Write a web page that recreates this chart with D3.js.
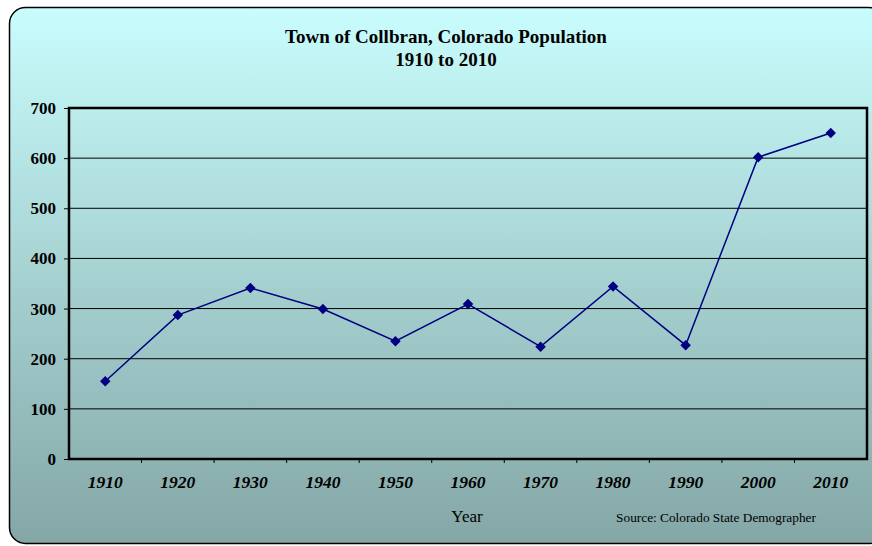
<!DOCTYPE html>
<html>
<head>
<meta charset="utf-8">
<script src="https://cdn.jsdelivr.net/npm/d3@7"></script>
<style>
  body { margin: 0; background: #fff; }
  svg { display: block; }
  text { font-family: "Liberation Serif", "Times New Roman", serif; fill: #000; }
</style>
</head>
<body>
<div id="wrapper"></div>
<script>
const years = ["1910", "1920", "1930", "1940", "1950", "1960", "1970", "1980", "1990", "2000", "2010"];
const population = [155, 287, 341, 299, 235, 309, 224, 344, 227, 602, 650];
const yTicks = [0, 100, 200, 300, 400, 500, 600, 700];

function drawChart() {
  const dimensions = {
    width: 872,
    height: 546,
    margin: { top: 108, right: 5, bottom: 87, left: 69 },
  };
  dimensions.boundedWidth = dimensions.width - dimensions.margin.left - dimensions.margin.right;
  dimensions.boundedHeight = dimensions.height - dimensions.margin.top - dimensions.margin.bottom;

  const wrapper = d3.select("#wrapper")
    .append("svg")
    .attr("width", dimensions.width)
    .attr("height", dimensions.height);

  // background gradient
  const grad = wrapper.append("defs").append("linearGradient")
    .attr("id", "bg")
    .attr("x1", 0).attr("y1", 0).attr("x2", 0).attr("y2", 1);
  grad.append("stop").attr("offset", "0%").attr("stop-color", "#c9fdfd");
  grad.append("stop").attr("offset", "100%").attr("stop-color", "#84a6a6");

  wrapper.append("rect")
    .attr("x", 9.5).attr("y", 7.5)
    .attr("width", 875).attr("height", 536)
    .attr("rx", 16).attr("ry", 16)
    .attr("fill", "url(#bg)")
    .attr("stroke", "#000")
    .attr("stroke-width", 1.5);

  // title
  wrapper.append("text")
    .attr("x", 446).attr("y", 43)
    .attr("text-anchor", "middle")
    .style("font-size", "19px").style("font-weight", "bold")
    .text("Town of Collbran, Colorado Population");
  wrapper.append("text")
    .attr("x", 446).attr("y", 66)
    .attr("text-anchor", "middle")
    .style("font-size", "19px").style("font-weight", "bold")
    .text("1910 to 2010");

  const bounds = wrapper.append("g")
    .attr("transform", `translate(${dimensions.margin.left}, ${dimensions.margin.top})`);

  const xScale = d3.scaleBand()
    .domain(years)
    .range([0, dimensions.boundedWidth]);

  const yScale = d3.scaleLinear()
    .domain([0, 700])
    .range([dimensions.boundedHeight, 0]);

  // gridlines
  bounds.selectAll(".grid")
    .data(yTicks)
    .join("line")
    .attr("class", "grid")
    .attr("x1", 0).attr("x2", dimensions.boundedWidth)
    .attr("y1", (d) => yScale(d)).attr("y2", (d) => yScale(d))
    .attr("stroke", "#000")
    .attr("stroke-width", 1);

  // y axis
  const yAxisGenerator = d3.axisLeft(yScale).tickValues(yTicks).tickSize(5).tickPadding(8);
  const yAxis = bounds.append("g").call(yAxisGenerator);
  yAxis.select(".domain").remove();
  yAxis.selectAll("line").attr("stroke", "#000");
  yAxis.selectAll("text")
    .style("font-family", "'Liberation Serif', serif")
    .style("font-size", "17px")
    .style("font-weight", "bold");

  // x axis, ticks sit at category boundaries
  const xAxisGenerator = d3.axisBottom(xScale).tickSize(0).tickPadding(17);
  const xAxis = bounds.append("g")
    .attr("transform", `translate(0, ${dimensions.boundedHeight})`)
    .call(xAxisGenerator);
  xAxis.select(".domain").remove();
  xAxis.selectAll("text")
    .style("font-family", "'Liberation Serif', serif")
    .style("font-size", "17.5px")
    .style("font-weight", "bold")
    .style("font-style", "italic");

  bounds.selectAll(".xtick")
    .data(years.slice(1))
    .join("line")
    .attr("class", "xtick")
    .attr("x1", (d) => xScale(d)).attr("x2", (d) => xScale(d))
    .attr("y1", dimensions.boundedHeight).attr("y2", dimensions.boundedHeight + 4)
    .attr("stroke", "#000");

  // plot border
  bounds.append("rect")
    .attr("width", dimensions.boundedWidth)
    .attr("height", dimensions.boundedHeight)
    .attr("fill", "none")
    .attr("stroke", "#000")
    .attr("stroke-width", 2.5);

  // line
  const lineGenerator = d3.line()
    .x((d, i) => xScale(years[i]) + xScale.bandwidth() / 2)
    .y((d) => yScale(d));

  bounds.append("path")
    .datum(population)
    .attr("d", lineGenerator)
    .attr("fill", "none")
    .attr("stroke", "#000080")
    .attr("stroke-width", 1.5);

  const diamond = d3.symbol().type(d3.symbolDiamond2).size(70);
  bounds.selectAll(".dot")
    .data(population)
    .join("path")
    .attr("class", "dot")
    .attr("d", diamond)
    .attr("transform", (d, i) =>
      `translate(${xScale(years[i]) + xScale.bandwidth() / 2}, ${yScale(d)})`)
    .attr("fill", "#000080");

  // axis title and source
  wrapper.append("text")
    .attr("x", 467).attr("y", 522)
    .attr("text-anchor", "middle")
    .style("font-size", "17px")
    .text("Year");
  wrapper.append("text")
    .attr("x", 716).attr("y", 522)
    .attr("text-anchor", "middle")
    .style("font-size", "13.3px")
    .text("Source: Colorado State Demographer");
}

drawChart();
</script>
</body>
</html>
